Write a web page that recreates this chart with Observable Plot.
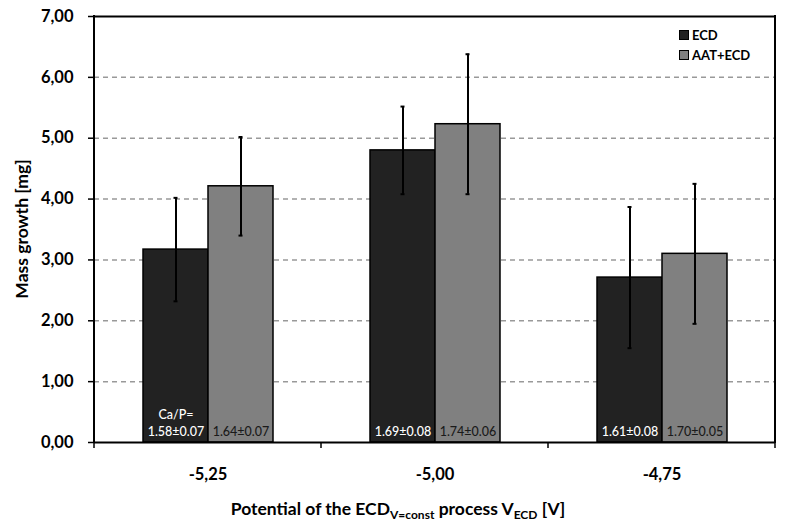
<!DOCTYPE html>
<html>
<head>
<meta charset="utf-8">
<script src="https://cdn.jsdelivr.net/npm/d3@7"></script>
<script src="https://cdn.jsdelivr.net/npm/@observablehq/plot@0.6"></script>
<style>
  html, body { margin: 0; padding: 0; background: #fff; }
  #wrap { position: relative; width: 796px; height: 527px; font-family: Lato, "Open Sans", sans-serif; }
  #xtitle { position: absolute; left: 0; width: 796px; top: 498px; text-align: center; font-weight: bold; font-size: 17.5px; color: #000; line-height: 22px; }
  #xtitle sub { font-size: 12px; vertical-align: -4px; line-height: 0; }
  #ytitle { position: absolute; left: 22px; top: 229px; transform: translate(-50%, -50%) rotate(-90deg); white-space: nowrap; font-weight: bold; font-size: 17.5px; color: #000; line-height: 20px; }
  #legend { position: absolute; left: 679px; top: 25px; font-weight: bold; font-size: 13px; color: #000; }
  #legend .row { display: flex; align-items: center; height: 20px; }
  #legend .sw { width: 8px; height: 8px; border: 1px solid #000; margin-right: 3px; }
</style>
</head>
<body>
<div id="wrap">
  <div id="chart"></div>
  <div id="ytitle">Mass growth [mg]</div>
  <div id="xtitle">Potential of the ECD<sub>V=const</sub> process V<sub>ECD</sub> [V]</div>
  <div id="legend"></div>
</div>
<script>
const categories = ["-5,25", "-5,00", "-4,75"];
const series = ["ECD", "AAT+ECD"];
const colors = ["#222222", "#808080"];
const ecdMean = [3.17, 4.80, 2.71];
const ecdErr = [0.85, 0.72, 1.16];
const aatMean = [4.21, 5.23, 3.10];
const aatErr = [0.81, 1.15, 1.15];
const ecdCaP = ["1.58±0.07", "1.69±0.08", "1.61±0.08"];
const aatCaP = ["1.64±0.07", "1.74±0.06", "1.70±0.05"];
const yTicks = [0, 1, 2, 3, 4, 5, 6, 7];
const gridTicks = [1, 2, 3, 4, 5, 6];

const rows = [];
categories.forEach((c, i) => {
  rows.push({cat: c, series: "ECD", mean: ecdMean[i], err: ecdErr[i], cap: (i === 0 ? "Ca/P=\n" : "") + ecdCaP[i]});
  rows.push({cat: c, series: "AAT+ECD", mean: aatMean[i], err: aatErr[i], cap: aatCaP[i]});
});

const W = 796, H = 485;
const chart = Plot.plot({
  width: W,
  height: H,
  marginLeft: 93,
  marginRight: 20,
  marginTop: 16,
  marginBottom: 43,
  style: {fontFamily: "Lato, 'Open Sans', sans-serif", background: "white", color: "black"},
  fx: {domain: categories, padding: 0, axis: null},
  x: {domain: series, paddingInner: 0, paddingOuter: 0.738, axis: null},
  y: {domain: [0, 7], axis: null},
  color: {domain: series, range: colors},
  marks: [
    Plot.ruleY(gridTicks, {stroke: "#999", strokeWidth: 1.5, strokeDasharray: "5,4"}),
    Plot.barY(rows, {fx: "cat", x: "series", y: "mean", fill: "series", stroke: "black", strokeWidth: 1.5}),
    Plot.ruleX(rows, {fx: "cat", x: "series", y1: d => d.mean - d.err, y2: d => d.mean + d.err, stroke: "black", strokeWidth: 2}),
    Plot.tickY(rows, {fx: "cat", x: "series", y: d => d.mean + d.err, stroke: "black", strokeWidth: 2, insetLeft: 30.5, insetRight: 30.5}),
    Plot.tickY(rows, {fx: "cat", x: "series", y: d => d.mean - d.err, stroke: "black", strokeWidth: 2, insetLeft: 30.5, insetRight: 30.5}),
    Plot.text(rows.filter(d => d.series === "ECD"), {fx: "cat", x: "series", y: 0, text: "cap", lineAnchor: "bottom", dy: -7, lineHeight: 1.3, fill: "white", fontSize: 12.5, fontWeight: 500}),
    Plot.text(rows.filter(d => d.series === "AAT+ECD"), {fx: "cat", x: "series", y: 0, text: "cap", lineAnchor: "bottom", dy: -7, lineHeight: 1.3, fill: "#1a1a1a", fontSize: 12.5, fontWeight: 500}),
    Plot.ruleY([0, 7], {stroke: "black", strokeWidth: 2}),
    Plot.axisY({ticks: yTicks, tickSize: 6, tickPadding: 15, strokeWidth: 1.5, tickFormat: d => d.toFixed(2).replace(".", ","), fontSize: 16.5, fontWeight: "bold", label: null}),
    Plot.axisFx({anchor: "bottom", tickSize: 0, tickPadding: 26, label: null, fontSize: 16.5, fontWeight: "bold"})
  ]
});
document.getElementById("chart").appendChild(chart);

// frame lines and band-boundary ticks from the library's scales
const fxS = chart.scale("fx");
const yS = chart.scale("y");
const svg = d3.select(chart);
const y0 = yS.apply(0), y7 = yS.apply(7);
const bounds = categories.map(c => fxS.apply(c));
bounds.push(fxS.apply(categories[categories.length - 1]) + fxS.bandwidth);
const g = svg.append("g").attr("stroke", "black");
g.append("line").attr("x1", bounds[0]).attr("x2", bounds[0]).attr("y1", y7 - 1).attr("y2", y0 + 1).attr("stroke-width", 2);
g.append("line").attr("x1", bounds[bounds.length - 1]).attr("x2", bounds[bounds.length - 1]).attr("y1", y7 - 1).attr("y2", y0 + 1).attr("stroke-width", 2);
bounds.forEach(b => g.append("line").attr("x1", b).attr("x2", b).attr("y1", y0).attr("y2", y0 + 6).attr("stroke-width", 1.5));

// legend
const lg = d3.select("#legend");
series.forEach((s, i) => {
  const r = lg.append("div").attr("class", "row");
  r.append("div").attr("class", "sw").style("background", colors[i]);
  r.append("span").text(s);
});
</script>
</body>
</html>
